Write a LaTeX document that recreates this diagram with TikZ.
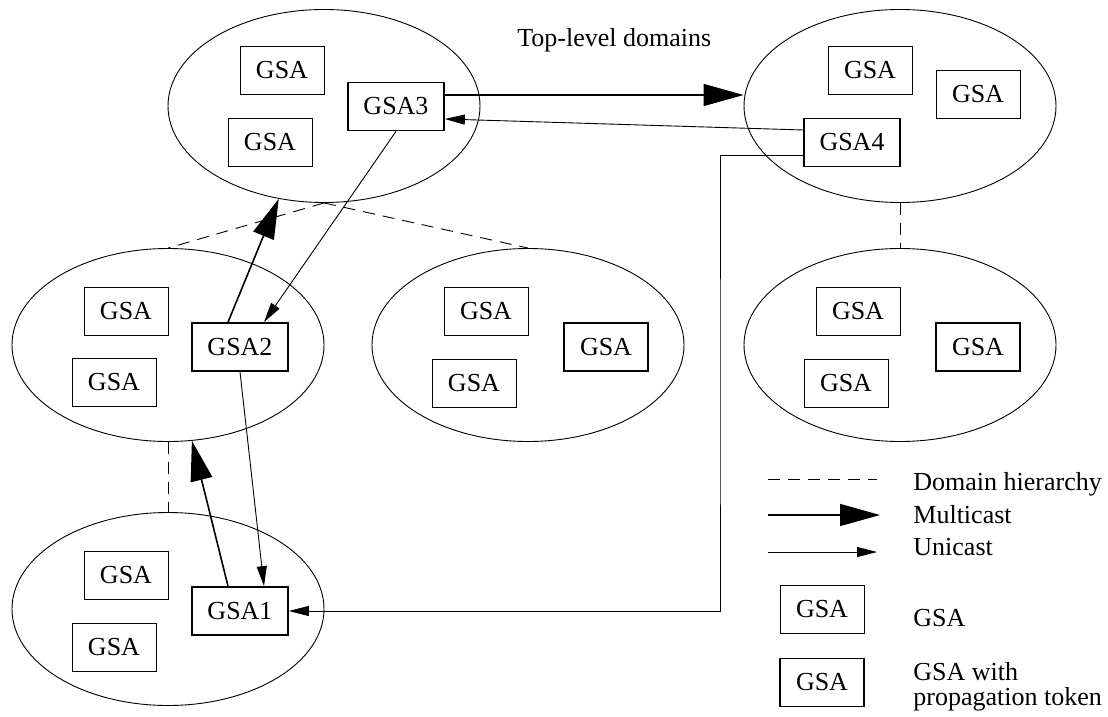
\documentclass[tikz,border=0pt]{standalone}
\usepackage{fontspec}
\setmainfont{Liberation Serif}
\usetikzlibrary{arrows.meta,shapes.geometric}
\begin{document}
\begin{tikzpicture}[x=0.5pt,y=-0.5pt,
  zone/.style={ellipse,draw,line width=0.45pt,minimum width=156pt,minimum height=96.5pt,inner sep=0pt},
  gsa/.style={draw,line width=0.35pt,minimum width=42pt,minimum height=24pt,inner sep=0pt,font=\fontsize{13}{15.6}\selectfont},
  token/.style={gsa,line width=0.85pt},
  named/.style={token,minimum width=48pt},
  multi/.style={line width=0.8pt,-{Triangle[length=20pt,width=11pt]}},
  uni/.style={line width=0.45pt,-{Triangle[length=10pt,width=5pt]}},
  hier/.style={line width=0.45pt,dash pattern=on 6pt off 4pt},
  lbl/.style={anchor=base west,inner sep=0pt,font=\fontsize{13}{15.6}\selectfont}
]
\useasboundingbox (0,0) rectangle (1108,717);

% domains
\node[zone] (E3) at (324,106) {};
\node[zone] (E4) at (900,106) {};
\node[zone] (E2) at (168,345) {};
\node[zone] (Em) at (528,345) {};
\node[zone] (E5) at (900,345) {};
\node[zone] (E1) at (168,609) {};

% agents in each domain
\node[gsa] (a31) at (282,70.5) {GSA};
\node[gsa] (a32) at (270,142) {GSA};
\node[named] (GSA3) at (396,106.5) {GSA3};

\node[gsa] (a41) at (870,70.5) {GSA};
\node[gsa] (a42) at (978,94.5) {GSA};
\node[named] (GSA4) at (852,142.5) {GSA4};

\node[gsa] (a21) at (126,311) {GSA};
\node[gsa] (a22) at (114,382) {GSA};
\node[named] (GSA2) at (240,347) {GSA2};

\node[gsa] (am1) at (486,311) {GSA};
\node[gsa] (am2) at (474,383) {GSA};
\node[token] (am3) at (606,347) {GSA};

\node[gsa] (a51) at (858,311) {GSA};
\node[gsa] (a52) at (846,383) {GSA};
\node[token] (a53) at (978,347) {GSA};

\node[gsa] (a11) at (126,575) {GSA};
\node[gsa] (a12) at (114,647) {GSA};
\node[named] (GSA1) at (240,611) {GSA1};

\node[lbl] (top) at (517,47) {Top-level domains};

% domain hierarchy
\draw[hier] (E3.south) -- (E2.north);
\draw[hier] (E3.south) -- (Em.north);
\draw[hier] (E2.south) -- (E1.north);
\draw[hier] (E4.south) -- (E5.north);

% multicast
\draw[multi] ([yshift=5.75pt]GSA3.east) -- ([yshift=5.75pt]GSA3.east -| E4.west);
\draw[multi] ([xshift=-6pt]GSA2.north) -- (E3.244);
\draw[multi] ([xshift=-6pt]GSA1.north) -- (E2.284);

% unicast
\draw[uni] ([yshift=6.25pt]GSA4.west) -- ([yshift=-6.25pt]GSA3.east);
\draw[uni] (GSA3.south) -- ([xshift=12pt]GSA2.north);
\draw[uni] (GSA2.south) -- ([xshift=12pt]GSA1.north);
\coordinate (route) at (720,400);
\draw[uni] ([yshift=-6.25pt]GSA4.west) -| (route) |- (GSA1.east);

% legend
\coordinate (dh1) at (768,479);
\coordinate (dh2) at (877,479);
\coordinate (mc1) at (768,515);
\coordinate (mc2) at (880,515);
\coordinate (uc1) at (768,552);
\coordinate (uc2) at (877,552);
\draw[hier] (dh1) -- (dh2);
\draw[multi] (mc1) -- (mc2);
\draw[uni] (uc1) -- (uc2);
\node[lbl] (t1) at (913,490) {Domain hierarchy};
\node[lbl] (t2) at (913,523) {Multicast};
\node[lbl] (t3) at (913,555) {Unicast};
\node[gsa] (lg1) at (822,609.5) {GSA};
\node[token] (lg2) at (822,682.5) {GSA};
\node[lbl] (t4) at (913,626) {GSA};
\node[lbl] (t5) at (913,680) {GSA with};
\node[lbl] (t6) at (913,705) {propagation token};
\end{tikzpicture}
\end{document}
